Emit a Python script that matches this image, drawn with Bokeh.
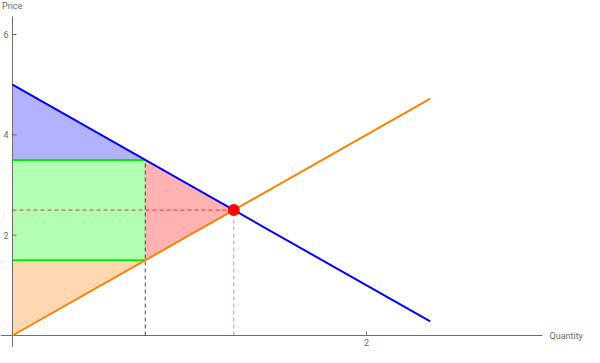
from bokeh.plotting import figure
from bokeh.embed import file_html
from bokeh.resources import INLINE
from bokeh.core.properties import value

# ---- data ----
q_line = [0.0, 2.36]          # quantity span of the two curves
demand_p = [5.0, 0.28]        # demand: P = 5 - 2Q
supply_p = [0.0, 4.72]        # supply: P = 2Q
quota_q = 0.75
demand_at_quota = 3.5
supply_at_quota = 1.5
eq_q = 1.25
eq_p = 2.5
x_ticks = [2]
x_tick_labels = ["2"]
y_ticks = [2, 4, 6]
y_tick_labels = ["2", "4", "6"]
x_label = "Quantity"
y_label = "Price"

# ---- pixel/data geometry ----
W, H = 584, 347
px_x = 177.0            # pixels per unit of quantity
px_y = 301.0 / 6.0      # pixels per unit of price
x0_px, y0_px = 12.0, 335.0   # origin inside frame (from left / from top)
x_start = -x0_px / px_x
x_end = (W - x0_px) / px_x
y_end = y0_px / px_y
y_start = -(H - y0_px) / px_y

FONT = value("Roboto")
TXT = "#6a6a6a"
AX = "#6e6e6e"

p = figure(width=W, height=H, x_range=(x_start, x_end), y_range=(y_start, y_end),
           output_backend="svg", toolbar_location=None,
           x_axis_location=None, y_axis_location=None, min_border=0)
p.grid.visible = False
p.outline_line_color = None
p.background_fill_color = "white"

# ---- shaded regions ----
p.patch([0, 0, quota_q], [demand_p[0], demand_at_quota, demand_at_quota],
        fill_color="blue", fill_alpha=0.3, line_color=None)
p.patch([0, quota_q, quota_q, 0],
        [supply_at_quota, supply_at_quota, demand_at_quota, demand_at_quota],
        fill_color="#00ff00", fill_alpha=0.3, line_color=None)
p.patch([0, 0, quota_q], [supply_p[0], supply_at_quota, supply_at_quota],
        fill_color="#ff7f00", fill_alpha=0.3, line_color=None)
p.patch([quota_q, quota_q, eq_q], [supply_at_quota, demand_at_quota, eq_p],
        fill_color="red", fill_alpha=0.3, line_color=None)

# ---- axes (drawn) ----
p.segment(x0=[0], y0=[y_start], x1=[0], y1=[(y0_px - 16) / px_y],
          line_color=AX, line_width=1)
p.segment(x0=[x_start], y0=[0], x1=[(542 - x0_px) / px_x], y1=[0],
          line_color=AX, line_width=1)
p.segment(x0=[0] * len(y_ticks), y0=y_ticks, x1=[4 / px_x] * len(y_ticks), y1=y_ticks,
          line_color=AX, line_width=1)
p.segment(x0=x_ticks, y0=[0] * len(x_ticks), x1=x_ticks, y1=[4 / px_y] * len(x_ticks),
          line_color=AX, line_width=1)
p.text(x=[-4 / px_x] * len(y_ticks), y=y_ticks, text=y_tick_labels,
       text_font=FONT, text_font_size="9px", text_color=TXT,
       text_align="right", text_baseline="middle")
p.text(x=x_ticks, y=[-6.5 / px_y] * len(x_ticks), text=x_tick_labels,
       text_font=FONT, text_font_size="9px", text_color=TXT,
       text_align="center", text_baseline="middle")
p.text(x=[-10.5 / px_x], y=[(y0_px - 5.5) / px_y], text=[y_label],
       text_font=FONT, text_font_size="9px", text_color=TXT,
       text_align="left", text_baseline="middle")
p.text(x=[(549 - x0_px) / px_x], y=[0], text=[x_label],
       text_font=FONT, text_font_size="9px", text_color=TXT,
       text_align="left", text_baseline="middle")

# ---- dashed guides ----
p.line([0, eq_q], [eq_p, eq_p], line_color="#d01818", line_alpha=0.8,
       line_width=1, line_dash="4 3")
p.line([eq_q, eq_q], [0, eq_p], line_color="red", line_alpha=0.5,
       line_width=1, line_dash="4 3")
p.line([quota_q, quota_q], [0, demand_at_quota], line_color="black", line_alpha=0.7,
       line_width=1, line_dash="4 3")

# ---- price lines at quota ----
p.line([0, quota_q], [demand_at_quota, demand_at_quota], line_color="#00ee00", line_width=2)
p.line([0, quota_q], [supply_at_quota, supply_at_quota], line_color="#00ee00", line_width=2)

# ---- curves ----
p.line(q_line, demand_p, line_color="#0000f0", line_width=2)
p.line(q_line, supply_p, line_color="#ff7f00", line_width=2)

# ---- equilibrium ----
p.scatter([eq_q], [eq_p], size=12, fill_color="red", line_color=None)

open("out.html", "w").write(file_html(p, INLINE))
